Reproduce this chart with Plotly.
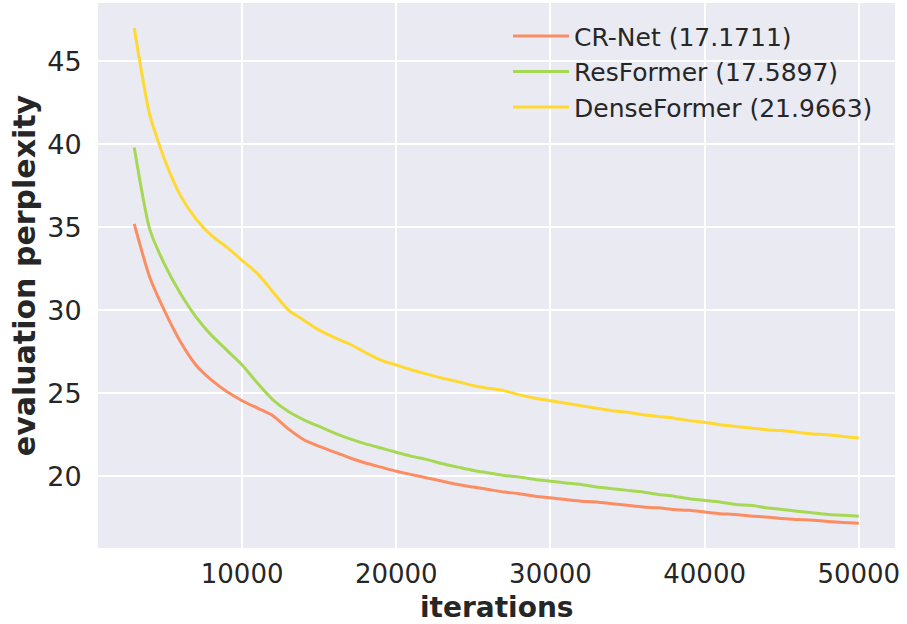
import plotly.graph_objects as go

iterations = list(range(3000, 50001, 1000))

cr_net = [35.2, 32.0, 29.9, 28.1, 26.7, 25.8, 25.1, 24.55, 24.1, 23.65,
          22.85, 22.2, 21.8, 21.45, 21.1, 20.8, 20.55, 20.3, 20.1, 19.9,
          19.7, 19.5, 19.35, 19.2, 19.05, 18.95, 18.8, 18.7, 18.6, 18.5,
          18.45, 18.35, 18.25, 18.15, 18.1, 18.0, 17.95, 17.85, 17.75, 17.7,
          17.6, 17.55, 17.45, 17.4, 17.35, 17.28, 17.22, 17.17]

resformer = [39.8, 34.9, 32.7, 31.0, 29.6, 28.5, 27.6, 26.7, 25.6, 24.6,
             23.9, 23.4, 23.0, 22.6, 22.25, 21.95, 21.7, 21.45, 21.2, 21.0,
             20.75, 20.55, 20.35, 20.2, 20.05, 19.95, 19.8, 19.7, 19.6, 19.5,
             19.35, 19.25, 19.15, 19.05, 18.9, 18.8, 18.65, 18.55, 18.45, 18.3,
             18.25, 18.1, 18.0, 17.9, 17.8, 17.7, 17.65, 17.59]

denseformer = [47.0, 41.8, 39.0, 36.9, 35.5, 34.5, 33.8, 33.0, 32.2, 31.1,
               30.0, 29.4, 28.8, 28.35, 27.95, 27.45, 27.0, 26.7, 26.4, 26.15,
               25.9, 25.7, 25.45, 25.3, 25.15, 24.9, 24.7, 24.55, 24.4, 24.25,
               24.1, 23.95, 23.85, 23.7, 23.6, 23.5, 23.35, 23.25, 23.1, 23.0,
               22.9, 22.8, 22.75, 22.65, 22.55, 22.5, 22.4, 22.3]

series_names = ["CR-Net (17.1711)", "ResFormer (17.5897)", "DenseFormer (21.9663)"]
series_values = [cr_net, resformer, denseformer]
series_colors = ["#fc8d62", "#a6d854", "#ffd92f"]

x_ticks = [10000, 20000, 30000, 40000, 50000]
x_tick_labels = ["10000", "20000", "30000", "40000", "50000"]
y_ticks = [20, 25, 30, 35, 40, 45]
y_tick_labels = ["20", "25", "30", "35", "40", "45"]

fig = go.Figure()
for name, vals, col in zip(series_names, series_values, series_colors):
    fig.add_trace(go.Scatter(x=iterations, y=vals, mode="lines", name=name,
                             line=dict(color=col, width=3, shape="spline", smoothing=0.6)))

font_family = "DejaVu Sans"
text_col = "#262626"
plot_top, plot_bottom = 3, 548
plot_h = plot_bottom - plot_top

fig.update_layout(
    width=907, height=624,
    margin=dict(l=98, r=12, t=plot_top, b=624 - plot_bottom),
    paper_bgcolor="white",
    plot_bgcolor="#EAEAF2",
    font=dict(family=font_family, size=25, color=text_col),
    showlegend=True,
    legend=dict(x=(508 - 98) / 797, y=0.981, xanchor="left", yanchor="top",
                itemwidth=56,
                bgcolor="rgba(0,0,0,0)", font=dict(size=25, color=text_col)),
    xaxis=dict(
        range=[650, 52350],
        tickvals=x_ticks, ticktext=x_tick_labels,
        showgrid=True, gridcolor="white", gridwidth=1.5,
        zeroline=False, showline=False,
        ticks="outside", ticklen=3, tickcolor="rgba(0,0,0,0)",
        tickfont=dict(size=26, color=text_col),
    ),
    yaxis=dict(
        range=[15.68, 48.5],
        tickvals=y_ticks, ticktext=y_tick_labels,
        showgrid=True, gridcolor="white", gridwidth=1.5,
        zeroline=False, showline=False,
        ticks="outside", ticklen=10, tickcolor="rgba(0,0,0,0)",
        tickfont=dict(size=27, color=text_col),
        title=dict(text="<b>evaluation perplexity</b>", font=dict(size=30, color=text_col), standoff=2),
    ),
    annotations=[dict(
        text="<b>iterations</b>", xref="paper", yref="paper",
        x=0.5, y=-(607 - plot_bottom) / plot_h, xanchor="center", yanchor="middle",
        showarrow=False, borderpad=0, font=dict(size=28, color=text_col),
    )],
)

fig.write_html("out.html")
